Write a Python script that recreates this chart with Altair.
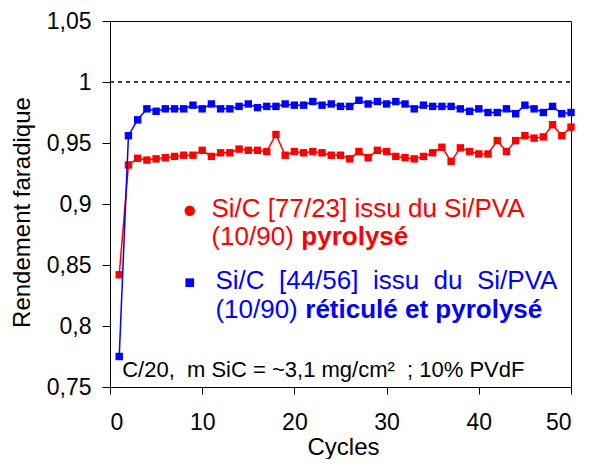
import altair as alt
import pandas as pd

FONT = "Liberation Sans"

cycles = list(range(1, 51))
red_vals = [0.842, 0.932, 0.9375, 0.936, 0.937, 0.938, 0.939, 0.940, 0.940, 0.944,
            0.939, 0.942, 0.942, 0.945, 0.944, 0.944, 0.943, 0.957, 0.940, 0.943,
            0.942, 0.943, 0.942, 0.940, 0.940, 0.937, 0.943, 0.938, 0.944, 0.943,
            0.939, 0.938, 0.937, 0.939, 0.942, 0.9465, 0.935, 0.946, 0.943, 0.941,
            0.941, 0.952, 0.943, 0.952, 0.956, 0.954, 0.955, 0.965, 0.956, 0.963]
blue_vals = [0.775, 0.956, 0.969, 0.978, 0.976, 0.978, 0.978, 0.978, 0.981, 0.978,
             0.982, 0.978, 0.978, 0.980, 0.982, 0.979, 0.980, 0.980, 0.982, 0.981,
             0.981, 0.984, 0.981, 0.982, 0.980, 0.980, 0.985, 0.982, 0.984, 0.982,
             0.984, 0.982, 0.978, 0.981, 0.980, 0.980, 0.980, 0.978, 0.976, 0.978,
             0.975, 0.975, 0.978, 0.974, 0.981, 0.978, 0.975, 0.980, 0.974, 0.975]

x_ticks = [0, 10, 20, 30, 40, 50]
y_ticks = [0.75, 0.8, 0.85, 0.9, 0.95, 1.0, 1.05]
ref_level = [1.0]

# legend / annotation texts (positions in data units)
txt_x = [11.0, 11.0, 20.75, 11.43, 11.43, 21.18, 1.32]
txt_y = [0.8893, 0.8664, 0.8664, 0.830, 0.8066, 0.8066, 0.7582]
txt_s = ["Si/C [77/23] issu du Si/PVA", "(10/90)", "pyrolysé",
         "Si/C\u00a0 [44/56]\u00a0 issu\u00a0 du\u00a0 Si/PVA", "(10/90)", "réticulé et pyrolysé",
         "C/20,\u00a0 m SiC = ~3,1 mg/cm²\u00a0 ; 10% PVdF"]
txt_c = ["#FF0000", "#FF0000", "#FF0000", "#0000FF", "#0000FF", "#0000FF", "#000000"]
txt_w = ["normal", "normal", "bold", "normal", "normal", "bold", "normal"]
txt_size = [26, 26, 26, 26, 26, 26, 22]

mk_x = [8.65, 8.65]
mk_y = [0.8945, 0.8355]

df = pd.DataFrame({"cycle": cycles, "red": red_vals, "blue": blue_vals})
ref_df = pd.DataFrame({"y": ref_level, "x0": [0], "x1": [50]})
txt_df = pd.DataFrame({"x": txt_x, "y": txt_y, "s": txt_s, "c": txt_c, "w": txt_w, "fs": txt_size})

xs = alt.Scale(domain=[0, 50], nice=False)
ys = alt.Scale(domain=[0.75, 1.05], nice=False, zero=False)

xaxis = alt.Axis(values=x_ticks, title="Cycles", grid=False, tickSize=7,
                 labelFontSize=23, titleFontSize=24, labelPadding=17,
                 titleX=233, titleY=67, titleBaseline="alphabetic")
yaxis = alt.Axis(values=y_ticks, title="Rendement faradique", grid=False, tickSize=8,
                 labelFontSize=23, titleFontSize=24, labelPadding=11,
                 labelExpr="replace(format(datum.value, '.2~f'), '.', ',')",
                 titleX=-88, titleY=191, titleAngle=270, titleBaseline="middle")


def X(field):
    return alt.X(field, type="quantitative", scale=xs, axis=xaxis)


def Y(field):
    return alt.Y(field, type="quantitative", scale=ys, axis=yaxis)


base = alt.Chart(df)

ref = alt.Chart(ref_df).mark_rule(color="black", strokeWidth=1.3, strokeDash=[4, 4]).encode(
    x=X("x0"), x2="x1", y=Y("y"))

red_line = base.mark_line(color="#FF0000", strokeWidth=1.5).encode(x=X("cycle"), y=Y("red"))
red_pts = base.mark_square(color="#FF0000", size=55, opacity=1).encode(x=X("cycle"), y=Y("red"))
blue_line = base.mark_line(color="#0000FF", strokeWidth=1.5).encode(x=X("cycle"), y=Y("blue"))
blue_pts = base.mark_square(color="#0000FF", size=55, opacity=1).encode(x=X("cycle"), y=Y("blue"))

leg_red = alt.Chart(pd.DataFrame({"x": mk_x[:1], "y": mk_y[:1]})).mark_circle(
    color="#FF0000", size=110, opacity=1).encode(x=X("x"), y=Y("y"))
leg_blue = alt.Chart(pd.DataFrame({"x": mk_x[1:], "y": mk_y[1:]})).mark_square(
    color="#0000FF", size=75, opacity=1).encode(x=X("x"), y=Y("y"))

texts = []
for w in ["normal", "bold"]:
    for fs in sorted(set(txt_size)):
        sub = txt_df[(txt_df.w == w) & (txt_df.fs == fs)]
        if len(sub) == 0:
            continue
        texts.append(alt.Chart(sub).mark_text(
            align="left", baseline="alphabetic", font=FONT, fontSize=fs, fontWeight=w
        ).encode(x=X("x"), y=Y("y"), text="s:N", color=alt.Color("c:N", scale=None)))

chart = alt.layer(ref, red_line, red_pts, blue_line, blue_pts, leg_red, leg_blue, *texts).properties(
    width=461, height=366,
    autosize=alt.AutoSizeParams(type="none"),
    padding={"left": 102, "top": 13, "right": 15, "bottom": 72},
).configure_view(stroke="black", strokeWidth=1).configure_axis(
    domainColor="black", tickColor="black", labelColor="black", titleColor="black",
    labelFont=FONT, titleFont=FONT, titleFontWeight="normal", domainWidth=1, tickWidth=1
)

chart.save("out.html", embed_options={"renderer": "svg", "actions": False})
